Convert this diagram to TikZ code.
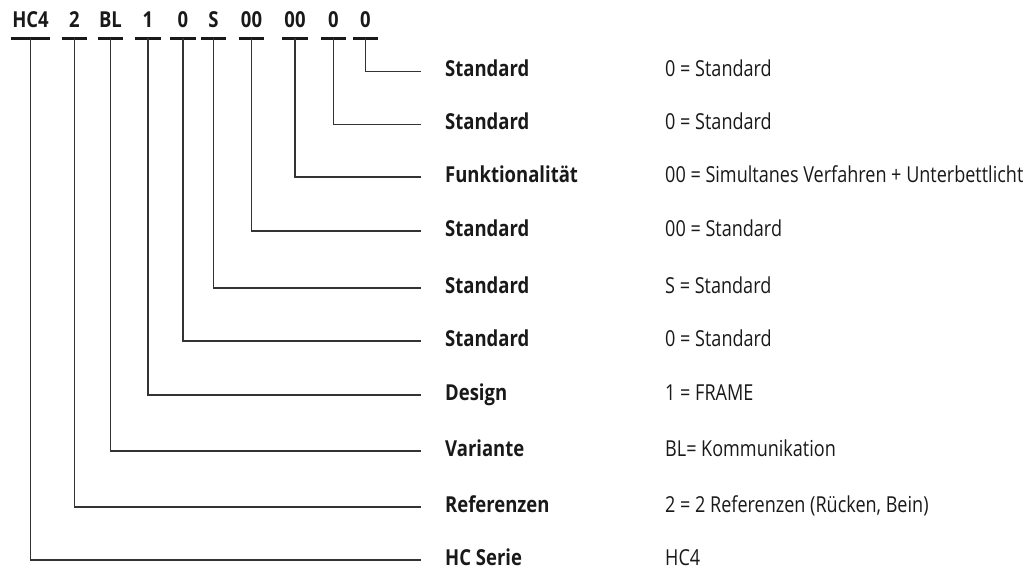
\documentclass[tikz,border=0pt]{standalone}
\usepackage{fontspec}
\setmainfont{Open Sans}[FakeStretch=0.82]
\newfontfamily\labfont{Open Sans}[FakeStretch=0.84]

\tikzset{
	code/.style={font=\labfont\bfseries\fontsize{22}{26}\selectfont,text=black!90,
		inner sep=0pt,minimum width=25pt,text depth=0pt,anchor=base},
	key/.style={font=\labfont\bfseries\fontsize{22}{26}\selectfont,text=black!90,
		inner sep=0pt,anchor=base west},
	val/.style={font=\fontsize{22}{26}\selectfont,text=black!90,
		inner sep=0pt,anchor=base west},
	uline/.style={line width=3pt,black!90},
	link/.style={line width=1.1pt,black!80},
}

\begin{document}
\begin{tikzpicture}[x=1pt,y=-1pt]
		\useasboundingbox (0,0) rectangle (1029,574);

		% code
		\node[code,minimum width=39pt] (hc) at (30.5,27) {HC4};
		\node[code] (refz) at (74.5,27) {2};
		\node[code] (var) at (110.5,27) {BL};
		\node[code] (des) at (148,27) {1};
		\node[code] (stda) at (183,27) {0};
		\node[code] (stdb) at (213.5,27) {S};
		\node[code] (stdc) at (251.5,27) {00};
		\node[code] (fkt) at (295,27) {00};
		\node[code] (stdd) at (333.5,27) {0};
		\node[code] (stde) at (365.5,27) {0};

		\foreach \c in {hc,refz,var,des,stda,stdb,stdc,fkt,stdd,stde}
			\draw[uline] ([yshift=-11pt]\c.south west) -- ([yshift=-11pt]\c.south east)
			coordinate[midway] (u-\c);

		% ends of the connectors
		\coordinate (e-stde) at (421,71.5);
		\coordinate (e-stdd) at (421,124.5);
		\coordinate (e-fkt) at (421,177);
		\coordinate (e-stdc) at (421,231);
		\coordinate (e-stdb) at (421,288);
		\coordinate (e-stda) at (421,341);
		\coordinate (e-des) at (421,395);
		\coordinate (e-var) at (421,451);
		\coordinate (e-refz) at (421,507);
		\coordinate (e-hc) at (421,560);

		\foreach \c in {hc,refz,var,des,stda,stdb,stdc,fkt,stdd,stde}
			\draw[link] (u-\c) |- (e-\c);

		% labels
		\node[key] (k-stde) at (445,76.5) {Standard};
		\node[val] (v-stde) at (665,76.5) {0 = Standard};
		\node[key] (k-stdd) at (445,129.5) {Standard};
		\node[val] (v-stdd) at (665,129.5) {0 = Standard};
		\node[key] (k-fkt) at (445,182) {Funktionalität};
		\node[val] (v-fkt) at (665,182) {00 = Simultanes Verfahren + Unterbettlicht};
		\node[key] (k-stdc) at (445,236) {Standard};
		\node[val] (v-stdc) at (665,236) {00 = Standard};
		\node[key] (k-stdb) at (445,293) {Standard};
		\node[val] (v-stdb) at (665,293) {S = Standard};
		\node[key] (k-stda) at (445,346) {Standard};
		\node[val] (v-stda) at (665,346) {0 = Standard};
		\node[key] (k-des) at (445,400) {Design};
		\node[val] (v-des) at (665,400) {1 = FRAME};
		\node[key] (k-var) at (445,456) {Variante};
		\node[val] (v-var) at (665,456) {BL= Kommunikation};
		\node[key] (k-refz) at (445,512) {Referenzen};
		\node[val] (v-refz) at (665,512) {2 = 2 Referenzen (Rücken, Bein)};
		\node[key] (k-hc) at (445,565) {HC Serie};
		\node[val] (v-hc) at (665,565) {HC4};
	\end{tikzpicture}
\end{document}
